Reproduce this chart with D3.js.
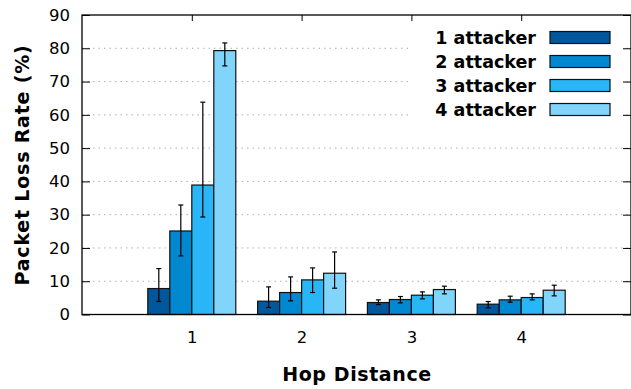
<!DOCTYPE html>
<html><head><meta charset="utf-8">
<script src="https://cdn.jsdelivr.net/npm/d3@7"></script>
<style>body{margin:0;background:#fff}svg{display:block}</style>
</head><body>
<svg id="c" width="631" height="389"></svg>
<script>
const categories = ["1","2","3","4"];
const seriesNames = ["1 attacker","2 attacker","3 attacker","4 attacker"];
const colors = ["#01579b","#0288d1","#29b6f6","#81d4fa"];
// values per series (index = hop distance)
const s1 = [7.8, 4.0, 3.6, 3.1];
const s2 = [25.1, 6.6, 4.5, 4.4];
const s3 = [38.9, 10.4, 5.8, 5.1];
const s4 = [79.3, 12.4, 7.5, 7.3];
const s1Lo = [3.9, 2.1, 3.0, 2.0], s1Hi = [13.8, 8.3, 4.4, 3.9];
const s2Lo = [17.6, 4.1, 3.5, 3.7], s2Hi = [32.9, 11.3, 5.4, 5.5];
const s3Lo = [29.3, 6.6, 4.7, 4.4], s3Hi = [63.8, 14.0, 6.8, 6.2];
const s4Lo = [74.7, 7.9, 6.2, 5.6], s4Hi = [81.6, 18.8, 8.5, 8.8];
const yTicks = [0,10,20,30,40,50,60,70,80,90];

const values = [s1,s2,s3,s4];
const lows = [s1Lo,s2Lo,s3Lo,s4Lo];
const highs = [s1Hi,s2Hi,s3Hi,s4Hi];

const svg = d3.select("#c");
const L = 82, R = 631, T = 15, B = 314.5;
const font = "DejaVu Sans, Verdana, sans-serif";
const x = d3.scaleLinear().domain([0,5]).range([L,R]);
const y = d3.scaleLinear().domain([0,90]).range([B,T]);
const barW = 22;

// grid
svg.append("g").selectAll("line").data(yTicks.filter(d=>d>0 && d<90)).join("line")
  .attr("x1",L).attr("x2",R).attr("y1",d=>y(d)).attr("y2",d=>y(d))
  .attr("stroke","#b0b0b0").attr("stroke-width",1).attr("stroke-dasharray","1.5,4");

// legend background
const lg = svg.append("g");
lg.append("rect").attr("x",410).attr("y",22).attr("width",213).attr("height",98).attr("fill","#fff");

// bars
values.forEach((vals,si)=>{
  const g = svg.append("g");
  g.selectAll("rect").data(vals).join("rect")
    .attr("x",(d,i)=>x(i+1) - 2*barW + si*barW)
    .attr("y",d=>y(d)).attr("width",barW).attr("height",d=>y(0)-y(d))
    .attr("fill",colors[si]).attr("stroke","#111").attr("stroke-width",1.2);
  const cx = i => x(i+1) - 2*barW + si*barW + barW/2;
  g.selectAll("line.e").data(vals).join("line").attr("class","e")
    .attr("x1",(d,i)=>cx(i)).attr("x2",(d,i)=>cx(i))
    .attr("y1",(d,i)=>y(lows[si][i])).attr("y2",(d,i)=>y(highs[si][i]))
    .attr("stroke","#000").attr("stroke-width",1.2);
  [lows[si],highs[si]].forEach(arr=>{
    g.append("g").selectAll("line").data(arr).join("line")
      .attr("x1",(d,i)=>cx(i)-2.5).attr("x2",(d,i)=>cx(i)+2.5)
      .attr("y1",d=>y(d)).attr("y2",d=>y(d))
      .attr("stroke","#000").attr("stroke-width",1.2);
  });
});

// border
svg.append("rect").attr("x",L).attr("y",T).attr("width",R-L).attr("height",B-T)
  .attr("fill","none").attr("stroke","#000").attr("stroke-width",1.3);

// y axis ticks
const yAxis = d3.axisLeft(y).tickValues(yTicks).tickSize(-8).tickPadding(12);
const ya = svg.append("g").attr("transform",`translate(${L},0)`).call(yAxis);
ya.select(".domain").remove();
ya.selectAll("text").attr("font-family",font).attr("font-size",16.5).attr("fill","#000");
ya.selectAll("line").attr("stroke","#000");
const yr = svg.append("g").attr("transform",`translate(${R},0)`).call(d3.axisRight(y).tickValues(yTicks).tickSize(-8).tickFormat(""));
yr.select(".domain").remove();

// x axis
const xv = categories.map((c,i)=>i+1);
const xa = svg.append("g").attr("transform",`translate(0,${B})`)
  .call(d3.axisBottom(x).tickValues(xv).tickFormat((d,i)=>categories[i]).tickSize(0).tickPadding(17));
xa.select(".domain").remove();
xa.selectAll("text").attr("font-family",font).attr("font-size",16.5).attr("fill","#000");
const xt = svg.append("g").attr("transform",`translate(0,${T})`)
  .call(d3.axisTop(x).tickValues(xv).tickSize(-6).tickFormat(""));
xt.select(".domain").remove();

// legend
seriesNames.forEach((n,i)=>{
  const cy = 37.5 + i*24;
  lg.append("text").attr("x",536).attr("y",cy).attr("dy","0.36em").attr("text-anchor","end")
    .attr("font-family",font).attr("font-weight","bold").attr("font-size",17.5).text(n);
  lg.append("rect").attr("x",550).attr("y",cy-6).attr("width",60).attr("height",12)
    .attr("fill",colors[i]).attr("stroke","#111").attr("stroke-width",1.2);
});

// axis titles
svg.append("text").attr("x",357).attr("y",381).attr("text-anchor","middle")
  .attr("font-family",font).attr("font-weight","bold").attr("font-size",19).attr("letter-spacing",0.6).text("Hop Distance");
svg.append("text").attr("transform","translate(29,165) rotate(-90)").attr("text-anchor","middle")
  .attr("font-family",font).attr("font-weight","bold").attr("font-size",19).attr("letter-spacing",0.8).text("Packet Loss Rate (%)");
</script>
</body></html>
